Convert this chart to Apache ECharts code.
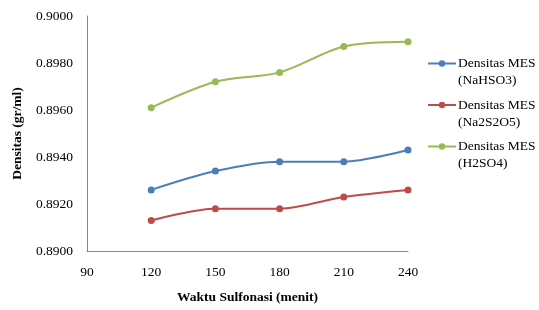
<!DOCTYPE html>
<html>
<head>
<meta charset="utf-8">
<script src="https://cdn.jsdelivr.net/npm/echarts@6/dist/echarts.min.js"></script>
<style>
  html, body { margin: 0; padding: 0; background: #fff; }
  #chart { width: 539px; height: 310px; }
</style>
</head>
<body>
<div id="chart"></div>
<script>
// waktu sulfonasi (menit)
var waktu = [120, 150, 180, 210, 240];
// densitas (gr/ml)
var nahso3 = [0.8926, 0.8934, 0.8938, 0.8938, 0.8943];
var na2s2o5 = [0.8913, 0.8918, 0.8918, 0.8923, 0.8926];
var h2so4 = [0.8961, 0.8972, 0.8976, 0.8987, 0.8989];
var names = ['Densitas MES\n(NaHSO3)', 'Densitas MES\n(Na2S2O5)', 'Densitas MES\n(H2SO4)'];
var colors = ['#4A7EBB', '#BE4B48', '#98B954'];

var chart = echarts.init(document.getElementById('chart'));
var font = 'Liberation Serif';

function pairs(ys) {
    return waktu.map(function (x, i) { return [x, ys[i]]; });
}

function makeSeries(name, ys, color) {
    return {
        name: name,
        type: 'line',
        data: pairs(ys),
        smooth: 0.3,
        symbol: 'circle',
        symbolSize: 7,
        itemStyle: { color: color },
        lineStyle: { color: color, width: 2 }
    };
}

var option = {
    animation: false,
    textStyle: { fontFamily: font },
    grid: { left: 87, right: 131, top: 16, bottom: 56 },
    legend: {
        orient: 'vertical',
        left: 422,
        top: 33,
        itemWidth: 28,
        itemHeight: 8,
        itemGap: -9.5,
        // blank first line so the icon sits beside the first text line
        formatter: function (n) { return ' \n' + n; },
        textStyle: {
            fontFamily: font,
            fontSize: 13.5,
            color: '#000',
            lineHeight: 17,
            padding: [0, 0, 0, -3]
        },
        data: names
    },
    xAxis: {
        type: 'value',
        min: 90,
        max: 240,
        interval: 30,
        name: 'Waktu Sulfonasi (menit)',
        nameLocation: 'middle',
        nameGap: 40,
        nameTextStyle: { fontFamily: font, fontSize: 13.5, fontWeight: 'bold', color: '#000' },
        axisLine: { lineStyle: { color: '#868686', width: 1 } },
        axisTick: { show: false },
        splitLine: { show: false },
        axisLabel: { fontFamily: font, fontSize: 13.5, color: '#000', margin: 14 }
    },
    yAxis: {
        type: 'value',
        min: 0.89,
        max: 0.9,
        interval: 0.002,
        name: 'Densitas (gr/ml)',
        nameLocation: 'middle',
        nameGap: 62,
        nameTextStyle: { fontFamily: font, fontSize: 13.5, fontWeight: 'bold', color: '#000' },
        axisLine: { show: true, lineStyle: { color: '#868686', width: 1 } },
        axisTick: { show: false },
        splitLine: { show: false },
        axisLabel: {
            fontFamily: font,
            fontSize: 13.5,
            color: '#000',
            margin: 14,
            formatter: function (v) { return v.toFixed(4); }
        }
    },
    series: [
        makeSeries(names[0], nahso3, colors[0]),
        makeSeries(names[1], na2s2o5, colors[1]),
        makeSeries(names[2], h2so4, colors[2])
    ]
};

chart.setOption(option);
</script>
</body>
</html>
